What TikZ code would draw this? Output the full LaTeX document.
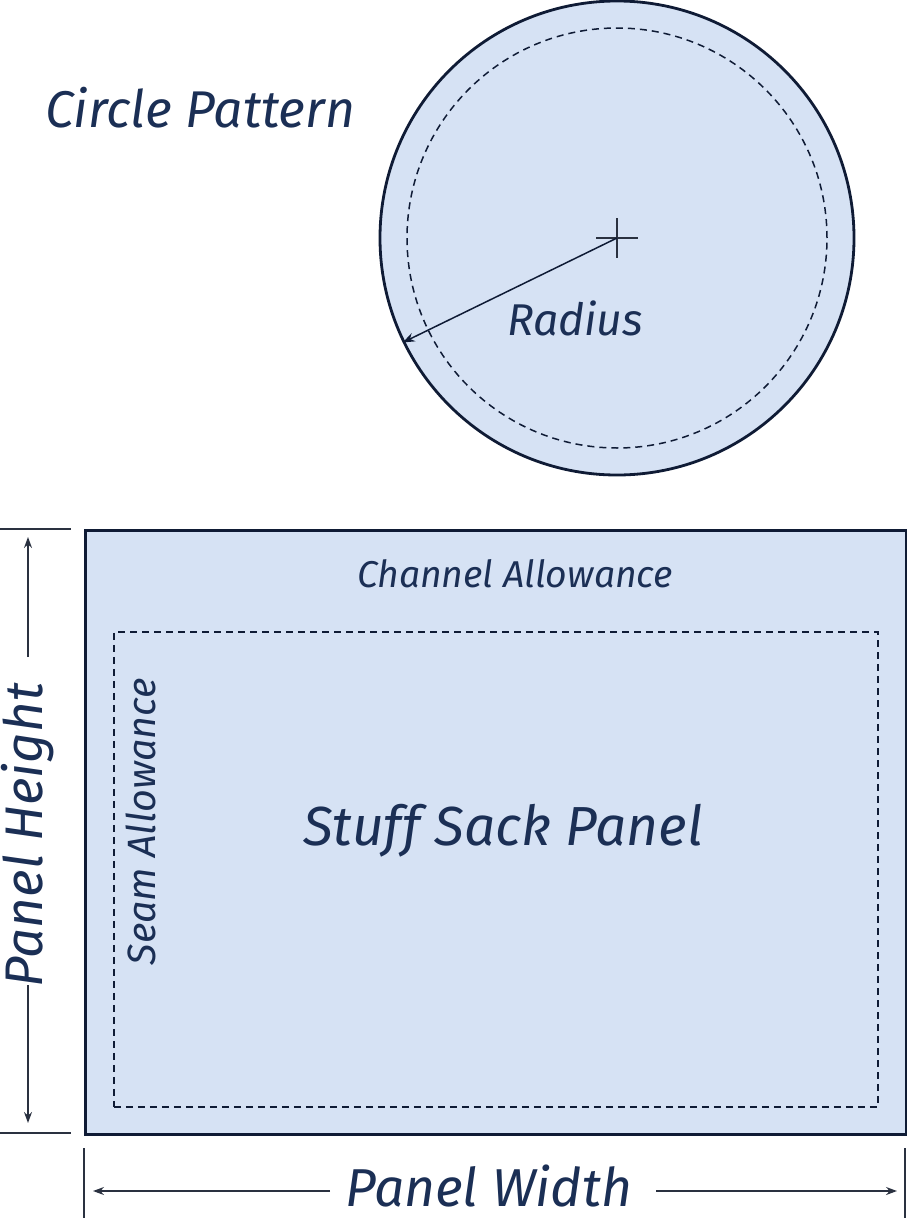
\documentclass[tikz,border=0pt]{standalone}
\usepackage{fontspec}
\setmainfont{Fira Sans}
\usetikzlibrary{arrows.meta}
\definecolor{panelfill}{HTML}{D6E2F4}
\definecolor{ink}{HTML}{0F1B35}
\definecolor{txt}{HTML}{1B2F55}
\definecolor{dimink}{HTML}{2A3140}
\newcommand{\fitw}[2]{\resizebox{#1}{!}{\itshape #2}}
\begin{document}
\begin{tikzpicture}[x=1pt,y=-1pt,
  lbl/.style={inner sep=0pt, outer sep=0pt, anchor=base west, text=txt},
  outline/.style={draw=ink, line width=2.8pt, fill=panelfill},
  seam/.style={draw=ink, line width=1.5pt, dash pattern=on 7pt off 5pt},
  dimline/.style={draw=dimink, line width=1.5pt},
  dimarrow/.style={dimline, -{Stealth[length=11pt,width=8pt]}},
]
\useasboundingbox (0,0) rectangle (907,1218);

% circle pattern
\coordinate (c) at (617,238);
\node[outline, circle, minimum size=474pt, inner sep=0pt] (outer) at (c) {};
\node[seam, circle, minimum size=420pt, inner sep=0pt] (inner) at (c) {};
\coordinate (cl) at (596,238); \coordinate (cr) at (638,238);
\coordinate (ct) at (617,218); \coordinate (cb) at (617,258);
\draw[dimline, line width=1.3pt] (cl) -- (cr);
\draw[dimline, line width=1.3pt] (ct) -- (cb);
\draw[draw=ink, line width=1.5pt, -{Stealth[length=12pt,width=9pt]}] (c) -- (outer.206);
\node[lbl] (radius) at (507,335) {\fitw{136pt}{Radius}};
\node[lbl] (cp) at (45,127) {\fitw{310pt}{Circle Pattern}};

% panel
\node[outline, rectangle, inner sep=0pt, minimum width=821pt, minimum height=604pt, anchor=north west] (panel) at (84,529) {};
\node[seam, rectangle, inner sep=0pt, minimum width=764pt, minimum height=475pt, anchor=north west] (sa) at (113,631) {};
\node[lbl] (chan) at (357,587) {\fitw{316pt}{Channel Allowance}};
\node[lbl, rotate=90] (seamtxt) at (155,965) {\fitw{287pt}{Seam Allowance}};
\node[lbl] (ssp) at (303,845) {\fitw{400pt}{Stuff Sack Panel}};

% height dimension
\coordinate (t1) at (0,529); \coordinate (t2) at (71,529);
\coordinate (b1) at (0,1133); \coordinate (b2) at (71,1133);
\draw[dimline] (t1) -- (t2);
\draw[dimline] (b1) -- (b2);
\node[lbl, rotate=90] (ph) at (42,987) {\fitw{304pt}{Panel Height}};
\coordinate (hu0) at (28,657); \coordinate (hu1) at (28,537);
\coordinate (hd0) at (28,985); \coordinate (hd1) at (28,1123);
\draw[dimarrow] (hu0) -- (hu1);
\draw[dimarrow] (hd0) -- (hd1);

% width dimension
\coordinate (l1) at (84,1148); \coordinate (l2) at (84,1218);
\coordinate (r1) at (905,1148); \coordinate (r2) at (905,1218);
\draw[dimline] (l1) -- (l2);
\draw[dimline] (r1) -- (r2);
\node[lbl] (pw) at (345,1206) {\fitw{287pt}{Panel Width}};
\coordinate (wl0) at (330,1191); \coordinate (wl1) at (93,1191);
\coordinate (wr0) at (656,1191); \coordinate (wr1) at (897,1191);
\draw[dimarrow] (wl0) -- (wl1);
\draw[dimarrow] (wr0) -- (wr1);
\end{tikzpicture}
\end{document}
